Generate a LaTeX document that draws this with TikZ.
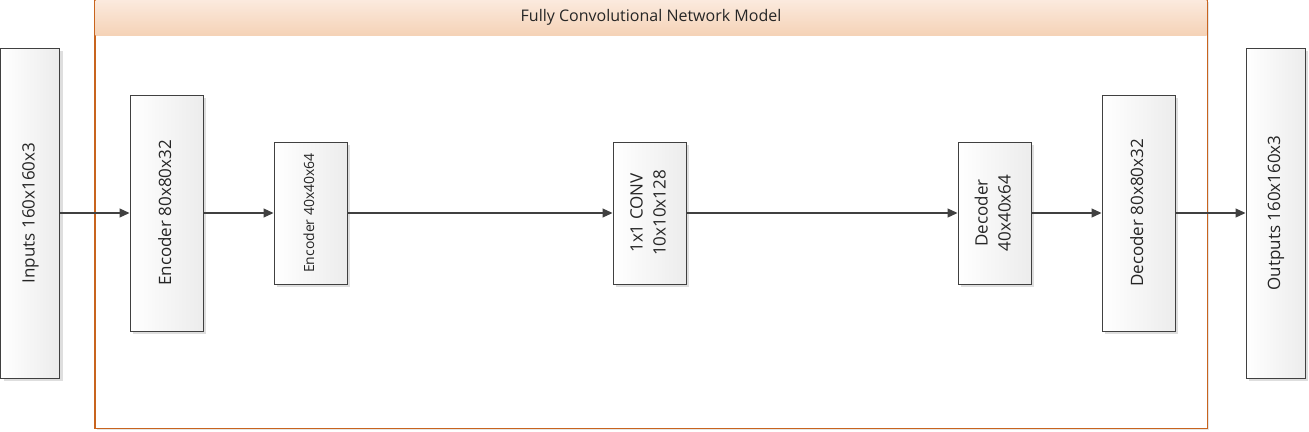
\documentclass[tikz,border=0pt]{standalone}
\usepackage{fontspec}
\setmainfont{Open Sans}
\usetikzlibrary{arrows.meta,shadows}
\definecolor{fcnorange}{RGB}{200,100,30}
\definecolor{fcnheadtop}{RGB}{251,234,222}
\definecolor{fcnheadbot}{RGB}{245,210,182}
\definecolor{fcnline}{RGB}{64,64,64}
\definecolor{fcngray}{RGB}{236,236,236}
\newcommand{\vlabel}[1]{\rotatebox{90}{\begin{tabular}{@{}c@{}}#1\end{tabular}}}

\begin{document}
\begin{tikzpicture}[x=1pt,y=-1pt,
  layer/.style={draw=fcnline,line width=1pt,left color=white,right color=fcngray,inner sep=0pt,
    text=black!85,font=\fontsize{17}{23}\selectfont,
    drop shadow={shadow xshift=3pt,shadow yshift=-3pt,fill=black!13,opacity=1}},
  flow/.style={draw=fcnline,line width=1.2pt,-{Triangle[length=10pt,width=9pt]}}]
  \useasboundingbox (0,0) rectangle (1309,431);
  % model frame
  \node[draw=fcnorange,line width=0.8pt,fill=white,minimum width=1112,minimum height=428,inner sep=0pt,
    drop shadow={shadow xshift=2pt,shadow yshift=-2pt,fill=black!10,opacity=1}] (fcn) at (651,214) {};
  \node[top color=fcnheadtop,bottom color=fcnheadbot,minimum width=1111,minimum height=36,inner sep=0pt,
    anchor=north,font=\fontsize{16}{19}\selectfont,text=black!85] (head) at (fcn.north) {Fully Convolutional Network Model};
  \draw[fcnorange,line width=0.8pt] (fcn.north west) rectangle (fcn.south east);
  % layers
  \node[layer,minimum width=59,minimum height=330] (inp) at (30,213) {\vlabel{Inputs 160x160x3}};
  \node[layer,minimum width=73,minimum height=236] (enc1) at (166.5,213) {\vlabel{Encoder 80x80x32}};
  \node[layer,minimum width=73,minimum height=142,font=\fontsize{14}{18}\selectfont] (enc2) at (310.5,213) {\vlabel{Encoder 40x40x64}};
  \node[layer,minimum width=73,minimum height=142] (conv) at (649.5,213) {\vlabel{1x1 CONV\\10x10x128}};
  \node[layer,minimum width=73,minimum height=142] (dec1) at (994.5,213) {\vlabel{Decoder\\40x40x64}};
  \node[layer,minimum width=73,minimum height=236] (dec2) at (1138.5,213) {\vlabel{Decoder 80x80x32}};
  \node[layer,minimum width=59,minimum height=330] (out) at (1275.5,213) {\vlabel{Outputs 160x160x3}};
  % connections
  \draw[flow] (inp) -- (enc1);
  \draw[flow] (enc1) -- (enc2);
  \draw[flow] (enc2) -- (conv);
  \draw[flow] (conv) -- (dec1);
  \draw[flow] (dec1) -- (dec2);
  \draw[flow] (dec2) -- (out);
\end{tikzpicture}
\end{document}
